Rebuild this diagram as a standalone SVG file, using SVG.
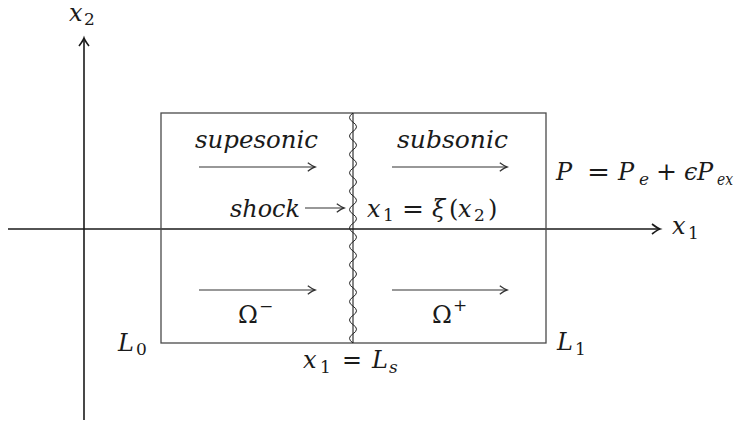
<svg xmlns="http://www.w3.org/2000/svg" width="740" height="422" viewBox="0 0 740 422">
<defs>
<style>
text{fill:#1a1a1a}
.ax{stroke:#1a1a1a;stroke-width:1.6;fill:none}
.bx{stroke:#4a4a4a;stroke-width:1.3;fill:none}
.ar{stroke:#333;stroke-width:1.1;fill:none}
</style>
<marker id="ah" markerWidth="12" markerHeight="12" refX="0" refY="0" viewBox="-8 -5 10 10" markerUnits="userSpaceOnUse" orient="auto">
<path d="M-6,-3.5 Q-2,-0.6 0,0 Q-2,0.6 -6,3.5" fill="none" stroke="#333" stroke-width="1.1"/>
</marker>
<marker id="axh" markerWidth="14" markerHeight="14" refX="0" refY="0" viewBox="-10 -7 12 14" markerUnits="userSpaceOnUse" orient="auto">
<path d="M-8,-5 Q-2.5,-0.8 0,0 Q-2.5,0.8 -8,5" fill="none" stroke="#1a1a1a" stroke-width="1.6"/>
</marker>
</defs>
<rect width="740" height="422" fill="#fff"/>
<g id="connectors">
<line class="ax" x1="8" y1="229" x2="660" y2="229" marker-end="url(#axh)"/>
<line class="ax" x1="84" y1="420" x2="84" y2="38" marker-end="url(#axh)"/>
<line class="ar" x1="199" y1="167" x2="315" y2="167" marker-end="url(#ah)"/>
<line class="ar" x1="392" y1="167" x2="507" y2="167" marker-end="url(#ah)"/>
<line class="ar" x1="199" y1="290" x2="315" y2="290" marker-end="url(#ah)"/>
<line class="ar" x1="392" y1="290" x2="507" y2="290" marker-end="url(#ah)"/>
<line class="ar" x1="305" y1="208" x2="344" y2="208" marker-end="url(#ah)"/>
</g>
<g id="domain">
<rect class="bx" x="161" y="113" width="385" height="230"/>
</g>
<g id="shock">
<line x1="353" y1="113" x2="353" y2="343" stroke="#222" stroke-width="1.1"/>
<path d="M353,113 q-7,4.6 0,9.2 t0,9.2 t0,9.2 t0,9.2 t0,9.2 t0,9.2 t0,9.2 t0,9.2 t0,9.2 t0,9.2 t0,9.2 t0,9.2 t0,9.2 t0,9.2 t0,9.2 t0,9.2 t0,9.2 t0,9.2 t0,9.2 t0,9.2 t0,9.2 t0,9.2 t0,9.2 t0,9.2 t0,9.2" fill="none" stroke="#222" stroke-width="1"/>
</g>
<g id="labels" font-family="DejaVu Serif, serif" font-size="24">
<g id="axis-x2">
<text font-style="italic" x="69" y="21">x</text>
<text font-size="17" x="84" y="25">2</text>
</g>
<g id="axis-x1">
<text font-style="italic" x="672" y="234">x</text>
<text font-size="17" x="688" y="239">1</text>
</g>
<g id="supersonic">
<text font-style="italic" x="195" y="148" textLength="123" lengthAdjust="spacingAndGlyphs">supesonic</text>
</g>
<g id="subsonic">
<text font-style="italic" x="397" y="148" textLength="111" lengthAdjust="spacingAndGlyphs">subsonic</text>
</g>
<g id="shock-label">
<text font-style="italic" x="230" y="217" textLength="70" lengthAdjust="spacingAndGlyphs">shock</text>
</g>
<g id="shock-position">
<text font-style="italic" x="367" y="217">x</text>
<text font-size="17" x="383" y="221">1</text>
<text x="402" y="217" textLength="22" lengthAdjust="spacingAndGlyphs">=</text>
<text font-style="italic" x="432" y="217">ξ</text>
<text x="449" y="217">(</text>
<text font-style="italic" x="458" y="217">x</text>
<text font-size="17" x="474" y="221">2</text>
<text x="488" y="217">)</text>
</g>
<g id="pressure">
<text font-style="italic" x="556" y="180">P</text>
<text x="587" y="180" textLength="23" lengthAdjust="spacingAndGlyphs">=</text>
<text font-style="italic" x="618" y="180">P</text>
<text font-style="italic" font-size="17" x="639" y="185">e</text>
<text x="656" y="180" textLength="21" lengthAdjust="spacingAndGlyphs">+</text>
<text font-style="italic" x="684" y="180">ϵ</text>
<text font-style="italic" x="697" y="180">P</text>
<text font-style="italic" font-size="17" x="717" y="185" textLength="16" lengthAdjust="spacingAndGlyphs">ex</text>
</g>
<g id="omega-minus">
<text x="238" y="323">Ω</text>
<text font-size="17" x="259" y="312">−</text>
</g>
<g id="omega-plus">
<text x="432" y="323">Ω</text>
<text font-size="17" x="453" y="311">+</text>
</g>
<g id="L0">
<text font-style="italic" x="118" y="351">L</text>
<text font-size="17" x="136" y="355">0</text>
</g>
<g id="L1">
<text font-style="italic" x="557" y="350">L</text>
<text font-size="17" x="575" y="355">1</text>
</g>
<g id="Ls">
<text font-style="italic" x="303" y="368">x</text>
<text font-size="17" x="320" y="373">1</text>
<text x="342" y="368" textLength="20" lengthAdjust="spacingAndGlyphs">=</text>
<text font-style="italic" x="372" y="368">L</text>
<text font-style="italic" font-size="17" x="389" y="373">s</text>
</g>
</g>
</svg>
